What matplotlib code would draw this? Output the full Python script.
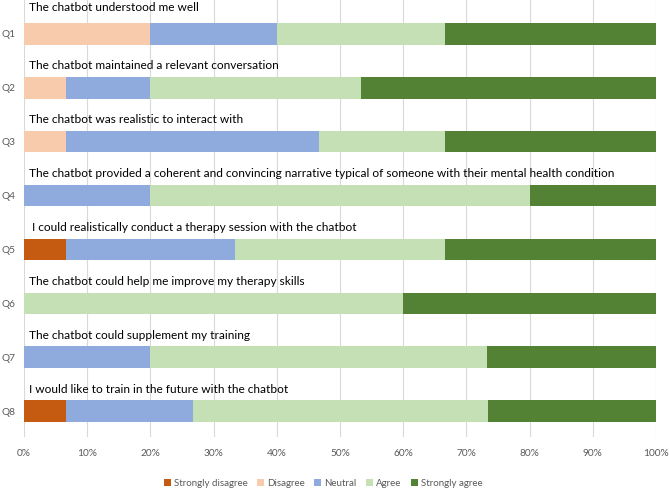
import matplotlib
matplotlib.use("Agg")
import matplotlib.pyplot as plt
import numpy as np

plt.rcParams['font.family'] = ['Lato', 'DejaVu Sans']

questions = ["Q1", "Q2", "Q3", "Q4", "Q5", "Q6", "Q7", "Q8"]
statements = [
    "The chatbot understood me well",
    "The chatbot maintained a relevant conversation",
    "The chatbot was realistic to interact with",
    "The chatbot provided a coherent and convincing narrative typical of someone with their mental health condition",
    " I could realistically conduct a therapy session with the chatbot",
    "The chatbot could help me improve my therapy skills",
    "The chatbot could supplement my training",
    "I would like to train in the future with the chatbot",
]
categories = ["Strongly disagree", "Disagree", "Neutral", "Agree", "Strongly agree"]
strongly_disagree = [0, 0, 0, 0, 6.67, 0, 0, 6.67]
disagree = [20, 6.67, 6.67, 0, 0, 0, 0, 0]
neutral = [20, 13.33, 40, 20, 26.67, 0, 20, 20]
agree = [26.67, 33.33, 20, 60, 33.33, 60, 53.33, 46.67]
strongly_agree = [33.33, 46.67, 33.33, 20, 33.33, 40, 26.67, 26.67]
colors = ["#C55A11", "#F8CBAD", "#8FAADC", "#C5E0B4", "#548235"]

series = [strongly_disagree, disagree, neutral, agree, strongly_agree]

fig = plt.figure(figsize=(6.69, 4.91), dpi=100)
ax = fig.add_axes([24/669, 1 - 437/491, 632/669, 437/491])

y = np.arange(len(questions))
left = np.zeros(len(questions))
for vals, col, cat in zip(series, colors, categories):
    v = np.array(vals)
    ax.barh(y, v, left=left, height=0.40, color=col, label=cat, zorder=2)
    left += v

for i, s in enumerate(statements):
    off = -0.5 if i == 0 else -0.41
    ax.text(0.8, i + off, s, fontsize=8.6, color="#000000", va="center", ha="left", zorder=3)

ax.set_xlim(0, 100)
ax.set_ylim(7.48, -0.63)
ax.set_yticks(y)
ax.set_yticklabels(questions, fontsize=7.3, color="#595959")
ax.set_xticks(np.arange(0, 101, 10))
ax.set_xticklabels([f"{t}%" for t in range(0, 101, 10)], fontsize=7.3, color="#595959")
ax.tick_params(axis='x', length=0, pad=9)
ax.tick_params(axis='y', length=0, pad=6)
ax.grid(axis='x', color="#D9D9D9", linewidth=0.8, zorder=0)
for sp in ax.spines.values():
    sp.set_visible(False)

handles, labels = ax.get_legend_handles_labels()
fig.legend(handles, labels, loc='center', bbox_to_anchor=(0.483, 1 - 483/491), ncol=5,
           frameon=False, fontsize=7.0, handlelength=0.7, handleheight=0.7,
           handletextpad=0.3, columnspacing=1.0, labelcolor="#595959")

fig.savefig("out.png", dpi=100)
